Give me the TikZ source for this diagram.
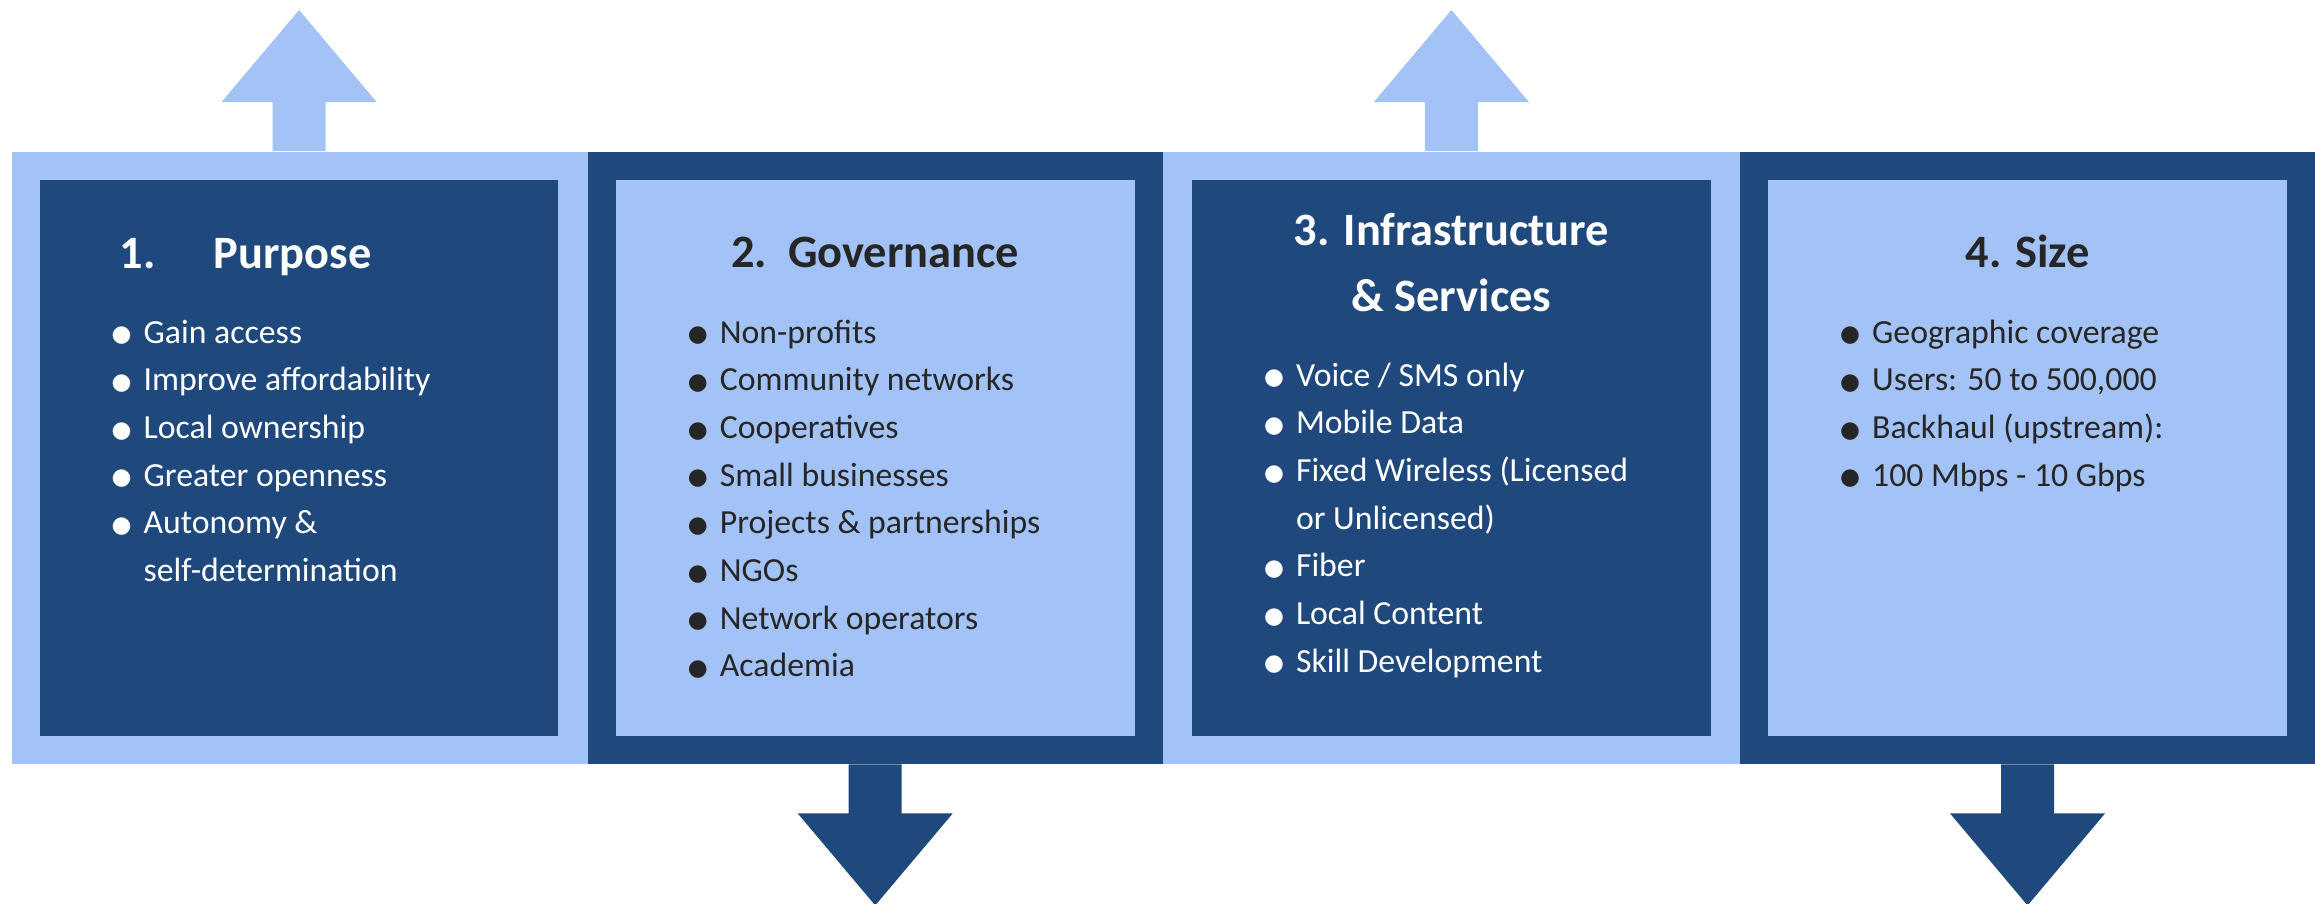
\documentclass[tikz,border=0pt]{standalone}
\usepackage{fontspec}
\setmainfont{Carlito}
\newfontfamily\bulfont{DejaVu Sans}
\usetikzlibrary{calc}
\definecolor{darkblue}{RGB}{31,73,125}
\definecolor{lightblue}{RGB}{163,194,246}
\definecolor{textgrey}{RGB}{38,38,38}
\def\pitch{0.477}
\newcommand\bul{\makebox[0.32cm][l]{\raisebox{0.4pt}{\bulfont\fontsize{6.5}{6.5}\selectfont ●}}}
\newcommand\nob{\hspace*{0.32cm}}
\tikzset{blockarrow/.pic={code={
    \fill (-0.265, 0)
       -- (-0.265, 0.49)
       -- (-0.775, 0.49)
       -- ( 0,    1.41)
       -- ( 0.775, 0.49)
       -- ( 0.265, 0.49)
       -- ( 0.265, 0) -- cycle;
}}}
\begin{document}
\begin{tikzpicture}[
    every node/.style={inner sep=0},
    panel/.style={minimum width=5.7475cm, minimum height=6.12cm, anchor=north west},
    box/.style={minimum width=5.1875cm, minimum height=5.56cm},
    title/.style={font=\bfseries\fontsize{13.2}{13.2}\selectfont, anchor=base},
    item/.style={font=\fontsize{9.6}{11.5}\selectfont, anchor=base west}
]
\useasboundingbox (0,0) rectangle (23.15,-9.03);

% four panels on one strip
\node [panel,minimum width=22.99cm,fill=lightblue] (strip) at (0.11,-1.51) {};
\node [panel,fill=lightblue] (pan1) at (0.11,-1.51) {};
\node [panel,fill=darkblue]  (pan2) at (pan1.north east) {};
\node [panel,fill=lightblue] (pan3) at (pan2.north east) {};
\node [panel,fill=darkblue]  (pan4) at (pan3.north east) {};

\node [box,fill=darkblue]  (box1) at (pan1) {};
\node [box,fill=lightblue] (box2) at (pan2) {};
\node [box,fill=darkblue]  (box3) at (pan3) {};
\node [box,fill=lightblue] (box4) at (pan4) {};

% block arrows
\path (pan1.north) pic [fill=lightblue] {blockarrow};
\path (pan3.north) pic [fill=lightblue] {blockarrow};
\path (pan2.south) pic [fill=darkblue,rotate=180] {blockarrow};
\path (pan4.south) pic [fill=darkblue,rotate=180] {blockarrow};

% titles
\node [title,text=white,anchor=base west] (t1) at ($(box1.north west)+(0.80,-0.89)$)
    {\makebox[0.94cm][l]{1.}Purpose};
\node [title,text=textgrey] (t2) at ($(box2.north)+(0,-0.88)$) {2.\ \ Governance};
\node [title,text=white] (t3a) at ($(box3.north)+(0,-0.66)$) {3. Infrastructure};
\node [title,text=white] (t3b) at ($(box3.north)+(0,-1.32)$) {\& Services};
\node [title,text=textgrey] (t4) at ($(box4.north)+(0,-0.88)$) {4. Size};

% lists
\foreach \t [count=\i] in {{\bul Gain access},{\bul Improve affordability},
    {\bul Local ownership},{\bul Greater openness},{\bul Autonomy \&},
    {\nob self-determination}}
  \node [item,text=white] (pur\i) at ($(box1.north west)+(0.72,{-1.64-(\i-1)*\pitch})$) {\t};

\foreach \t [count=\i] in {{\bul Non-profits},{\bul Community networks},
    {\bul Cooperatives},{\bul Small businesses},{\bul Projects \& partnerships},
    {\bul NGOs},{\bul Network operators},{\bul Academia}}
  \node [item,text=textgrey] (gov\i) at ($(box2.north west)+(0.72,{-1.64-(\i-1)*\pitch})$) {\t};

\foreach \t [count=\i] in {{\bul Voice / SMS only},{\bul Mobile Data},
    {\bul Fixed Wireless (Licensed},{\nob or Unlicensed)},{\bul Fiber},
    {\bul Local Content},{\bul Skill Development}}
  \node [item,text=white] (inf\i) at ($(box3.north west)+(0.72,{-2.07-(\i-1)*\pitch})$) {\t};

\foreach \t [count=\i] in {{\bul Geographic coverage},{\bul Users: 50 to 500,000},
    {\bul Backhaul (upstream):},{\bul 100 Mbps - 10 Gbps}}
  \node [item,text=textgrey] (siz\i) at ($(box4.north west)+(0.72,{-1.64-(\i-1)*\pitch})$) {\t};

\end{tikzpicture}
\end{document}
